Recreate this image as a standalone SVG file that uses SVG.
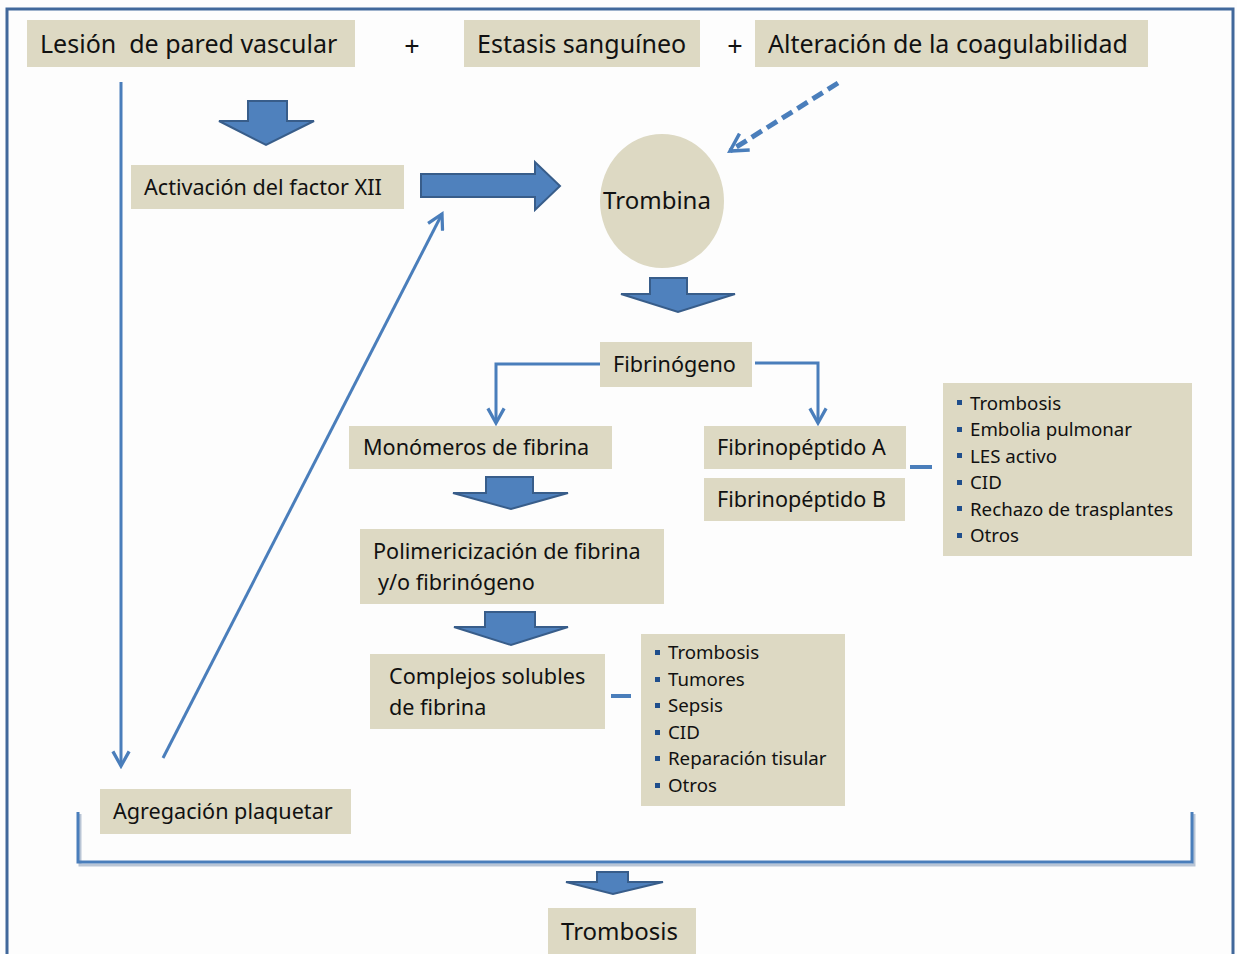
<svg xmlns="http://www.w3.org/2000/svg" width="1237" height="954" viewBox="0 0 1237 954">
  <style>
    .box { fill: #ddd9c3; }
    .t { font-family: "Noto Sans", "Open Sans", sans-serif; fill: #111; }
    .top { font-size: 25px; }
    .big { font-size: 24px; }
    .plus { font-size: 27px; }
    .mid { font-size: 21.6px; }
    .sm { font-size: 18.7px; }
    .blk { fill: #4f81bd; stroke: #385d8a; stroke-width: 2; stroke-linejoin: miter; }
    .ln { fill: none; stroke: #4a7ebb; stroke-width: 3; }
    .dash { fill: none; stroke: #4a7ebb; stroke-width: 5; stroke-dasharray: 12 6; }
    .tick { fill: none; stroke: #4a7ebb; stroke-width: 4; }
    .bul { fill: #1f4e8c; }
  </style>
  <defs>
    <marker id="open" viewBox="0 0 12 12" refX="10" refY="6" markerWidth="6.5" markerHeight="6.5" orient="auto" markerUnits="strokeWidth">
      <path d="M1,1 L10,6 L1,11" fill="none" stroke="#4a7ebb" stroke-width="2"/>
    </marker>
    <marker id="openDash" viewBox="0 0 12 12" refX="10" refY="6" markerWidth="4.6" markerHeight="4.6" orient="auto" markerUnits="strokeWidth">
      <path d="M1,1 L10,6 L1,11" fill="none" stroke="#4a7ebb" stroke-width="1.8"/>
    </marker>
  </defs>

  <rect width="1237" height="954" fill="#fdfdfd"/>
  <!-- frame -->
  <path d="M7,960 L7,9 L1233,9 L1233,960" fill="none" stroke="#41689b" stroke-width="3"/>

  <!-- connectors -->
  <g id="connectors">
    <line class="ln" x1="121" y1="82" x2="121" y2="766" marker-end="url(#open)"/>
    <line class="ln" x1="163" y1="758" x2="442" y2="214" marker-end="url(#open)"/>
    <line class="dash" x1="838" y1="83" x2="730" y2="151" marker-end="url(#openDash)"/>
    <polyline class="ln" points="600,364 496,364 496,423" marker-end="url(#open)"/>
    <polyline class="ln" points="755,363 818,363 818,423" marker-end="url(#open)"/>
    <line class="tick" x1="910" y1="467" x2="932" y2="467"/>
    <line class="tick" x1="611" y1="696" x2="631" y2="696"/>
    <polyline points="79,812 79,863 1193,863 1193,812" fill="none" stroke="#385d8a" stroke-width="3" opacity="0.35" transform="translate(1,2)"/>
    <polyline class="ln" points="78,812 78,862 1192,862 1192,812"/>
    <!-- block arrows -->
    <polygon class="blk" points="248,101 287,101 287,121 314,121 266,145 219,121 248,121"/>
    <polygon class="blk" points="421,174 535,174 535,162 560,186 535,210 535,197 421,197"/>
    <polygon class="blk" points="650,278 687,278 687,294 735,294 678,312 621,294 650,294"/>
    <polygon class="blk" points="486,477 533,477 533,493 568,493 511,509 453,493 486,493"/>
    <polygon class="blk" points="485,612 535,612 535,627 568,627 511,645 454,627 485,627"/>
    <polygon class="blk" points="597,872 628,872 628,882 663,882 613,894 566,882 597,882"/>
  </g>

  <g id="lesion">
    <rect class="box" x="27" y="20" width="328" height="47"/>
    <text class="t top" x="40" y="53" xml:space="preserve">Lesión  de pared vascular</text>
  </g>
  <text class="t plus" x="412" y="56" text-anchor="middle">+</text>
  <g id="estasis">
    <rect class="box" x="464" y="20" width="236" height="47"/>
    <text class="t top" x="477" y="53">Estasis sanguíneo</text>
  </g>
  <text class="t plus" x="735" y="56" text-anchor="middle">+</text>
  <g id="alteracion">
    <rect class="box" x="755" y="20" width="393" height="47"/>
    <text class="t top" x="768" y="53">Alteración de la coagulabilidad</text>
  </g>

  <g id="factorxii">
    <rect class="box" x="131" y="165" width="273" height="44"/>
    <text class="t mid" x="144" y="195">Activación del factor XII</text>
  </g>

  <g id="trombina">
    <ellipse class="box" cx="662" cy="201" rx="62" ry="67"/>
    <text class="t big" x="657" y="209" text-anchor="middle">Trombina</text>
  </g>

  <g id="fibrinogeno">
    <rect class="box" x="600" y="342" width="152" height="45"/>
    <text class="t mid" x="613" y="372">Fibrinógeno</text>
  </g>

  <g id="monomeros">
    <rect class="box" x="349" y="426" width="263" height="43"/>
    <text class="t mid" x="363" y="455">Monómeros de fibrina</text>
  </g>

  <g id="fpa">
    <rect class="box" x="704" y="426" width="202" height="43"/>
    <text class="t mid" x="717" y="455">Fibrinopéptido A</text>
  </g>
  <g id="fpb">
    <rect class="box" x="704" y="478" width="201" height="43"/>
    <text class="t mid" x="717" y="507">Fibrinopéptido B</text>
  </g>

  <g id="lista-fp">
    <rect class="box" x="943" y="383" width="249" height="173"/>
    <g class="bul">
      <rect x="957" y="400" width="5" height="5"/>
      <rect x="957" y="427" width="5" height="5"/>
      <rect x="957" y="453" width="5" height="5"/>
      <rect x="957" y="480" width="5" height="5"/>
      <rect x="957" y="506" width="5" height="5"/>
      <rect x="957" y="533" width="5" height="5"/>
    </g>
    <text class="t sm" x="970" y="410">Trombosis</text>
    <text class="t sm" x="970" y="436">Embolia pulmonar</text>
    <text class="t sm" x="970" y="463">LES activo</text>
    <text class="t sm" x="970" y="489">CID</text>
    <text class="t sm" x="970" y="516">Rechazo de trasplantes</text>
    <text class="t sm" x="970" y="542">Otros</text>
  </g>

  <g id="polimerizacion">
    <rect class="box" x="360" y="529" width="304" height="75"/>
    <text class="t mid" x="373" y="559">Polimericización de fibrina</text>
    <text class="t mid" x="378" y="590">y/o fibrinógeno</text>
  </g>

  <g id="complejos">
    <rect class="box" x="370" y="654" width="235" height="75"/>
    <text class="t mid" x="389" y="684">Complejos solubles</text>
    <text class="t mid" x="389" y="715">de fibrina</text>
  </g>

  <g id="lista-complejos">
    <rect class="box" x="641" y="634" width="204" height="172"/>
    <g class="bul">
      <rect x="655" y="650" width="5" height="5"/>
      <rect x="655" y="677" width="5" height="5"/>
      <rect x="655" y="703" width="5" height="5"/>
      <rect x="655" y="730" width="5" height="5"/>
      <rect x="655" y="756" width="5" height="5"/>
      <rect x="655" y="783" width="5" height="5"/>
    </g>
    <text class="t sm" x="668" y="659">Trombosis</text>
    <text class="t sm" x="668" y="686">Tumores</text>
    <text class="t sm" x="668" y="712">Sepsis</text>
    <text class="t sm" x="668" y="739">CID</text>
    <text class="t sm" x="668" y="765">Reparación tisular</text>
    <text class="t sm" x="668" y="792">Otros</text>
  </g>

  <g id="agregacion">
    <rect class="box" x="100" y="789" width="251" height="45"/>
    <text class="t mid" x="113" y="819">Agregación plaquetar</text>
  </g>

  <g id="trombosis">
    <rect class="box" x="548" y="908" width="148" height="50"/>
    <text class="t big" x="561" y="940">Trombosis</text>
  </g>
</svg>
